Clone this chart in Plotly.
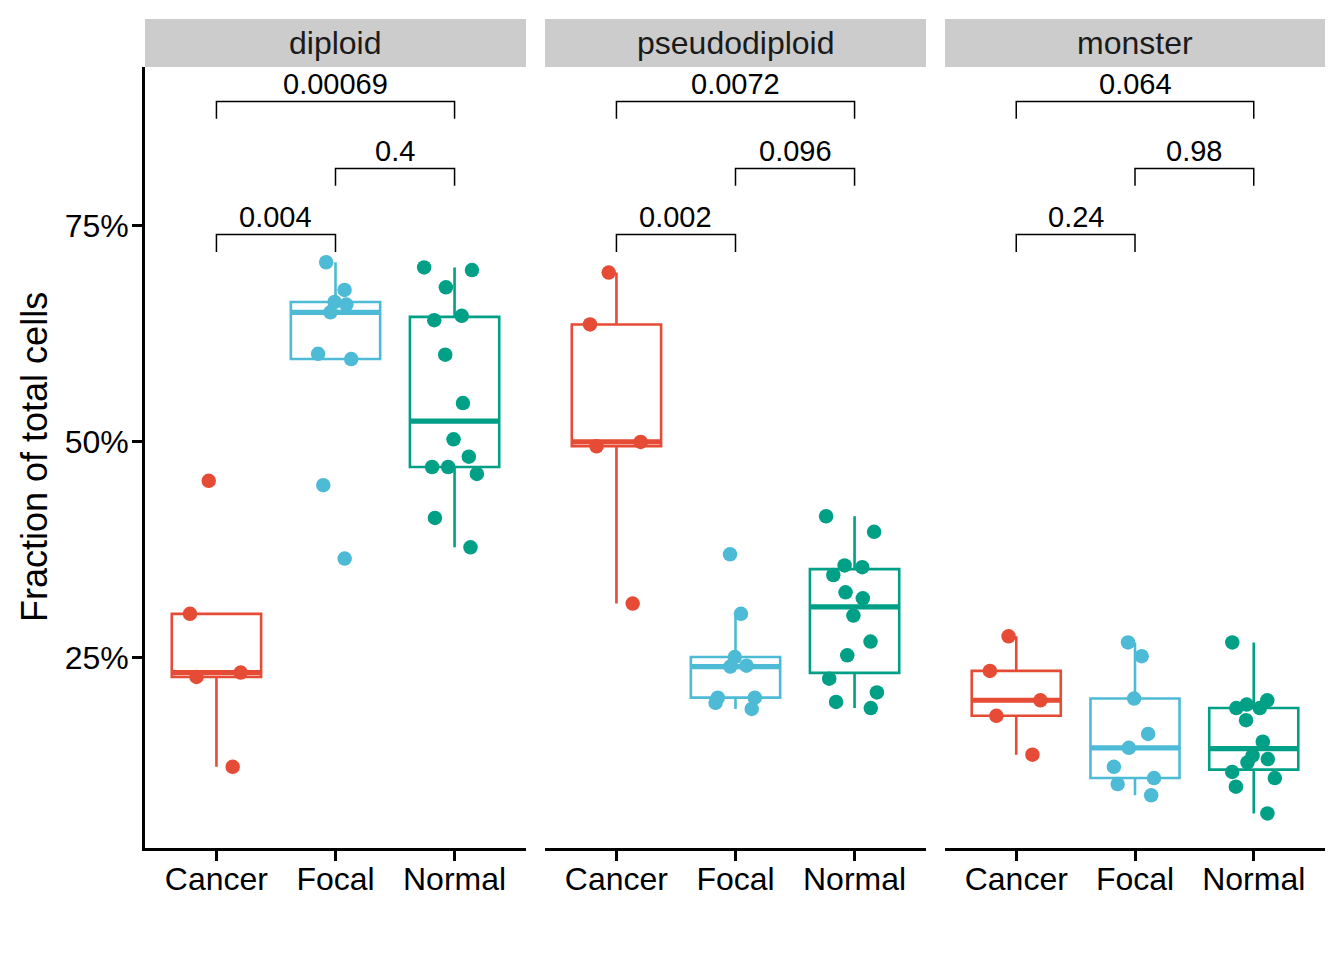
import numpy as np
import plotly.graph_objects as go
from plotly.subplots import make_subplots

# ---------------- data ----------------
groups = ["Cancer", "Focal", "Normal"]
facets = ["diploid", "pseudodiploid", "monster"]

diploid_cancer = [45.5, 30.1, 23.3, 22.8, 12.4]
diploid_focal = [70.8, 67.6, 66.2, 65.9, 65.0, 60.2, 59.6, 45.0, 36.5]
diploid_normal = [70.2, 69.9, 67.9, 64.6, 64.1, 60.1, 54.5, 50.3, 48.3, 47.1, 47.1, 46.3, 41.2, 37.8]

pseudodiploid_cancer = [69.6, 63.6, 50.0, 49.5, 31.3]
pseudodiploid_focal = [37.0, 30.1, 25.1, 24.0, 24.1, 20.4, 20.4, 19.8, 19.1]
pseudodiploid_normal = [41.4, 39.6, 35.7, 35.5, 34.6, 32.6, 31.9, 29.9, 26.9, 25.3, 22.6, 21.0, 19.9, 19.2]

monster_cancer = [27.5, 23.5, 20.1, 18.3, 13.8]
monster_focal = [26.8, 25.2, 20.3, 16.2, 14.6, 12.4, 11.1, 10.4, 9.1]
monster_normal = [26.8, 20.1, 19.6, 19.2, 19.2, 17.8, 15.3, 13.7, 13.3, 12.9, 11.8, 11.1, 10.1, 7.0]

comparisons = [("Cancer", "Focal"), ("Focal", "Normal"), ("Cancer", "Normal")]
pvalues_diploid = ["0.004", "0.4", "0.00069"]
pvalues_pseudodiploid = ["0.002", "0.096", "0.0072"]
pvalues_monster = ["0.24", "0.98", "0.064"]

y_ticks = [25, 50, 75]
y_tick_labels = ["25%", "50%", "75%"]

# ---------------- styles ----------------
colors = {"Cancer": "#E64B35", "Focal": "#4DBBD5", "Normal": "#00A087"}
FONT = "Liberation Sans, Arial, Helvetica, sans-serif"
W, H = 1344, 960
x_domains_px = [(145, 526), (545, 926), (945, 1325)]
y_top_px, y_bot_px = 67, 848
y_range = [3.0, 93.4]
bracket_levels = [74.0, 81.65, 89.4]
bracket_drop = 2.0
box_width = 0.75

facet_data = {
    "diploid": [diploid_cancer, diploid_focal, diploid_normal],
    "pseudodiploid": [pseudodiploid_cancer, pseudodiploid_focal, pseudodiploid_normal],
    "monster": [monster_cancer, monster_focal, monster_normal],
}
facet_pvals = {
    "diploid": pvalues_diploid,
    "pseudodiploid": pvalues_pseudodiploid,
    "monster": pvalues_monster,
}


def box_stats(values):
    a = np.sort(np.asarray(values, dtype=float))
    q1, med, q3 = np.percentile(a, [25, 50, 75])
    iqr = q3 - q1
    lo = a[a >= q1 - 1.5 * iqr].min()
    hi = a[a <= q3 + 1.5 * iqr].max()
    return q1, med, q3, lo, hi


fig = make_subplots(rows=1, cols=3, shared_yaxes=False)

for fi, facet in enumerate(facets):
    col = fi + 1
    xa = "x" if fi == 0 else f"x{col}"
    ya = "y" if fi == 0 else f"y{col}"
    for gi, grp in enumerate(groups):
        vals = facet_data[facet][gi]
        q1, med, q3, lo, hi = box_stats(vals)
        c = colors[grp]
        # box body + whiskers
        fig.add_trace(go.Box(
            x=[grp], q1=[q1], median=[med], q3=[q3], lowerfence=[lo], upperfence=[hi],
            width=box_width, whiskerwidth=0, boxpoints=False,
            fillcolor="white", line=dict(color=c, width=2.6),
            showlegend=False, hoverinfo="skip"), row=1, col=col)
        # thick median
        fig.add_trace(go.Box(
            x=[grp], q1=[med], median=[med], q3=[med], lowerfence=[med], upperfence=[med],
            width=box_width, whiskerwidth=0, boxpoints=False,
            fillcolor="rgba(0,0,0,0)", line=dict(color=c, width=5.2),
            showlegend=False, hoverinfo="skip"), row=1, col=col)
    for gi, grp in enumerate(groups):
        vals = facet_data[facet][gi]
        c = colors[grp]
        # jittered points
        fig.add_trace(go.Box(
            x=[grp] * len(vals), y=vals, width=box_width,
            boxpoints="all", jitter=0.7, pointpos=0, whiskerwidth=0,
            fillcolor="rgba(0,0,0,0)", line=dict(color="rgba(0,0,0,0)", width=0),
            marker=dict(color=c, size=14.5, line=dict(width=0)),
            showlegend=False, hoverinfo="y"), row=1, col=col)
    # significance brackets
    for ci, (g1, g2) in enumerate(comparisons):
        lvl = bracket_levels[ci]
        fig.add_trace(go.Scatter(
            x=[g1, g1, g2, g2], y=[lvl - bracket_drop, lvl, lvl, lvl - bracket_drop],
            mode="lines", line=dict(color="black", width=1.5),
            showlegend=False, hoverinfo="skip"), row=1, col=col)
        fig.add_annotation(
            x=(groups.index(g1) + groups.index(g2)) / 2, y=lvl, xref=xa, yref=ya,
            text=facet_pvals[facet][ci], showarrow=False, yanchor="middle", yshift=18,
            font=dict(family=FONT, size=29, color="black"))
    # strip
    x0p, x1p = x_domains_px[fi]
    fig.add_shape(type="rect", xref="paper", yref="paper",
                  x0=x0p / W, x1=x1p / W, y0=(H - 67) / H, y1=(H - 19) / H,
                  fillcolor="#CCCCCC", line=dict(width=0), layer="below")
    fig.add_annotation(x=(x0p + x1p) / 2 / W, y=(H - 43) / H, xref="paper", yref="paper",
                       text=facet, showarrow=False, xanchor="center", yanchor="middle",
                       font=dict(family=FONT, size=32, color="#1A1A1A"))

# y-axis title
fig.add_annotation(x=34 / W, y=(H - 457) / H, xref="paper", yref="paper",
                   text="Fraction of total cells", textangle=-90, showarrow=False,
                   xanchor="center", yanchor="middle",
                   font=dict(family=FONT, size=36, color="black"))

for fi in range(3):
    col = fi + 1
    x0p, x1p = x_domains_px[fi]
    fig.update_xaxes(
        type="category", categoryorder="array", categoryarray=groups,
        range=[-0.6, 2.6], domain=[x0p / W, x1p / W],
        showline=True, linecolor="black", linewidth=2.6,
        ticks="outside", ticklen=10, tickwidth=2.6, tickcolor="black",
        ticklabelstandoff=-9,
        tickfont=dict(family=FONT, size=32, color="black"),
        showgrid=False, zeroline=False, fixedrange=True,
        row=1, col=col)
    fig.update_yaxes(
        range=y_range, domain=[(H - y_bot_px) / H, (H - y_top_px) / H],
        tickmode="array", tickvals=y_ticks, ticktext=y_tick_labels,
        showline=(fi == 0), linecolor="black", linewidth=2.6,
        ticks="outside" if fi == 0 else "", ticklen=10, tickwidth=2.6, tickcolor="black",
        ticklabelstandoff=-3,
        showticklabels=(fi == 0),
        tickfont=dict(family=FONT, size=32, color="black"),
        showgrid=False, zeroline=False, fixedrange=True,
        row=1, col=col)

fig.update_layout(
    width=W, height=H, margin=dict(l=0, r=0, t=0, b=0),
    paper_bgcolor="white", plot_bgcolor="white",
    boxmode="overlay", showlegend=False,
    font=dict(family=FONT, color="black"),
)

fig.write_html("out.html", config={"displayModeBar": False},
               post_script="document.body.style.margin='0px';")
